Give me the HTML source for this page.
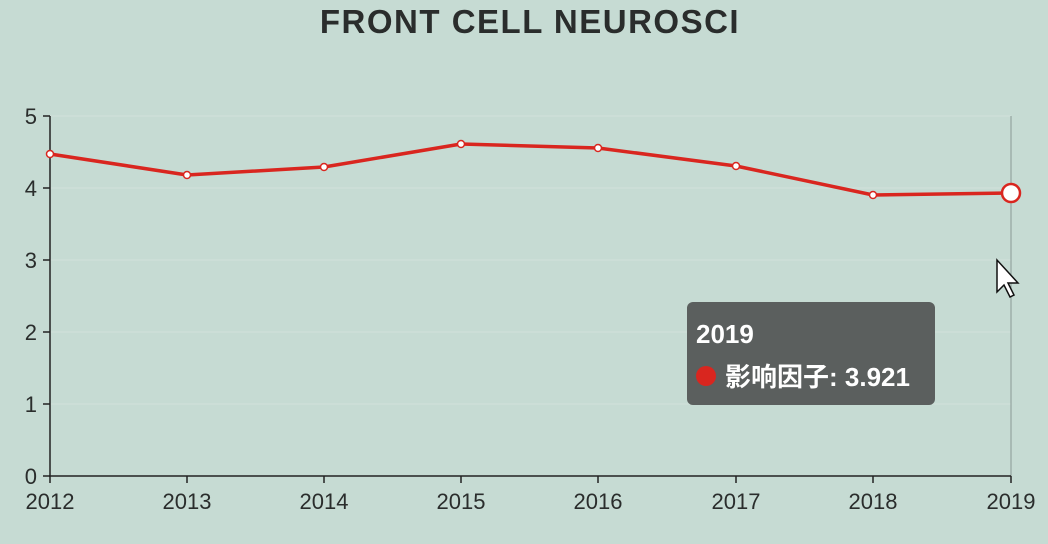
<!DOCTYPE html>
<html><head><meta charset="utf-8"><style>
html,body{margin:0;padding:0;background:#c6dbd3;}
svg{display:block;font-family:"Liberation Sans","Noto Sans CJK SC",sans-serif;}
</style></head><body>
<svg width="1048" height="544" viewBox="0 0 1048 544">
<rect width="1048" height="544" fill="#c6dbd3"/>
<text x="530" y="33" text-anchor="middle" font-size="33" font-weight="bold" letter-spacing="1.5" fill="#2a2d2c">FRONT CELL NEUROSCI</text>
<g stroke="#d2e2db" stroke-width="1">
<line x1="50" y1="116" x2="1011" y2="116"/><line x1="50" y1="188" x2="1011" y2="188"/>
<line x1="50" y1="260" x2="1011" y2="260"/><line x1="50" y1="332" x2="1011" y2="332"/>
<line x1="50" y1="404" x2="1011" y2="404"/>
</g>
<line x1="1011" y1="116" x2="1011" y2="476" stroke="#8a9a94" stroke-width="1"/>
<g stroke="#222" stroke-width="1.5">
<line x1="50" y1="116" x2="50" y2="476"/><line x1="49" y1="476" x2="1011" y2="476"/>
<line x1="43" y1="116" x2="50" y2="116"/><line x1="43" y1="188" x2="50" y2="188"/>
<line x1="43" y1="260" x2="50" y2="260"/><line x1="43" y1="332" x2="50" y2="332"/>
<line x1="43" y1="404" x2="50" y2="404"/><line x1="43" y1="476" x2="50" y2="476"/>
<line x1="50" y1="476" x2="50" y2="483"/><line x1="187" y1="476" x2="187" y2="483"/>
<line x1="324" y1="476" x2="324" y2="483"/><line x1="461" y1="476" x2="461" y2="483"/>
<line x1="598" y1="476" x2="598" y2="483"/><line x1="736" y1="476" x2="736" y2="483"/>
<line x1="873" y1="476" x2="873" y2="483"/><line x1="1011" y1="476" x2="1011" y2="483"/>
</g>
<g font-size="22" fill="#2a2d2c" text-anchor="end">
<text x="37" y="124">5</text><text x="37" y="196">4</text><text x="37" y="268">3</text>
<text x="37" y="340">2</text><text x="37" y="412">1</text><text x="37" y="484">0</text>
</g>
<g font-size="22" fill="#2a2d2c" text-anchor="middle">
<text x="50" y="509">2012</text><text x="187" y="509">2013</text><text x="324" y="509">2014</text>
<text x="461" y="509">2015</text><text x="598" y="509">2016</text><text x="736" y="509">2017</text>
<text x="873" y="509">2018</text><text x="1011" y="509">2019</text>
</g>
<polyline fill="none" stroke="#d9261f" stroke-width="3.5" stroke-linejoin="round" points="50,154 187,175 324,167 461,144 598,148 736,166 873,195 1011,193"/>
<g fill="#fff" stroke="#d9261f" stroke-width="1.5">
<circle cx="50" cy="154" r="3.5"/><circle cx="187" cy="175" r="3.5"/><circle cx="324" cy="167" r="3.5"/>
<circle cx="461" cy="144" r="3.5"/><circle cx="598" cy="148" r="3.5"/><circle cx="736" cy="166" r="3.5"/>
<circle cx="873" cy="195" r="3.5"/>
</g>
<circle cx="1011" cy="193" r="9" fill="#fff" stroke="#d9261f" stroke-width="2.5"/>
<path d="M997,260 L997,292 L1004,285 L1010,297 L1014,295 L1008,283 L1018,283 Z" fill="#fff" stroke="#111" stroke-width="1.5"/>
<rect x="687" y="302" width="248" height="103" rx="6" fill="#5b5f5e"/>
<text x="696" y="343" font-size="26" font-weight="bold" fill="#fff">2019</text>
<circle cx="706" cy="376" r="10" fill="#d9261f"/>
<text x="725" y="386" font-size="26" font-weight="bold" fill="#fff">影响因子: 3.921</text>
</svg>
</body></html>
